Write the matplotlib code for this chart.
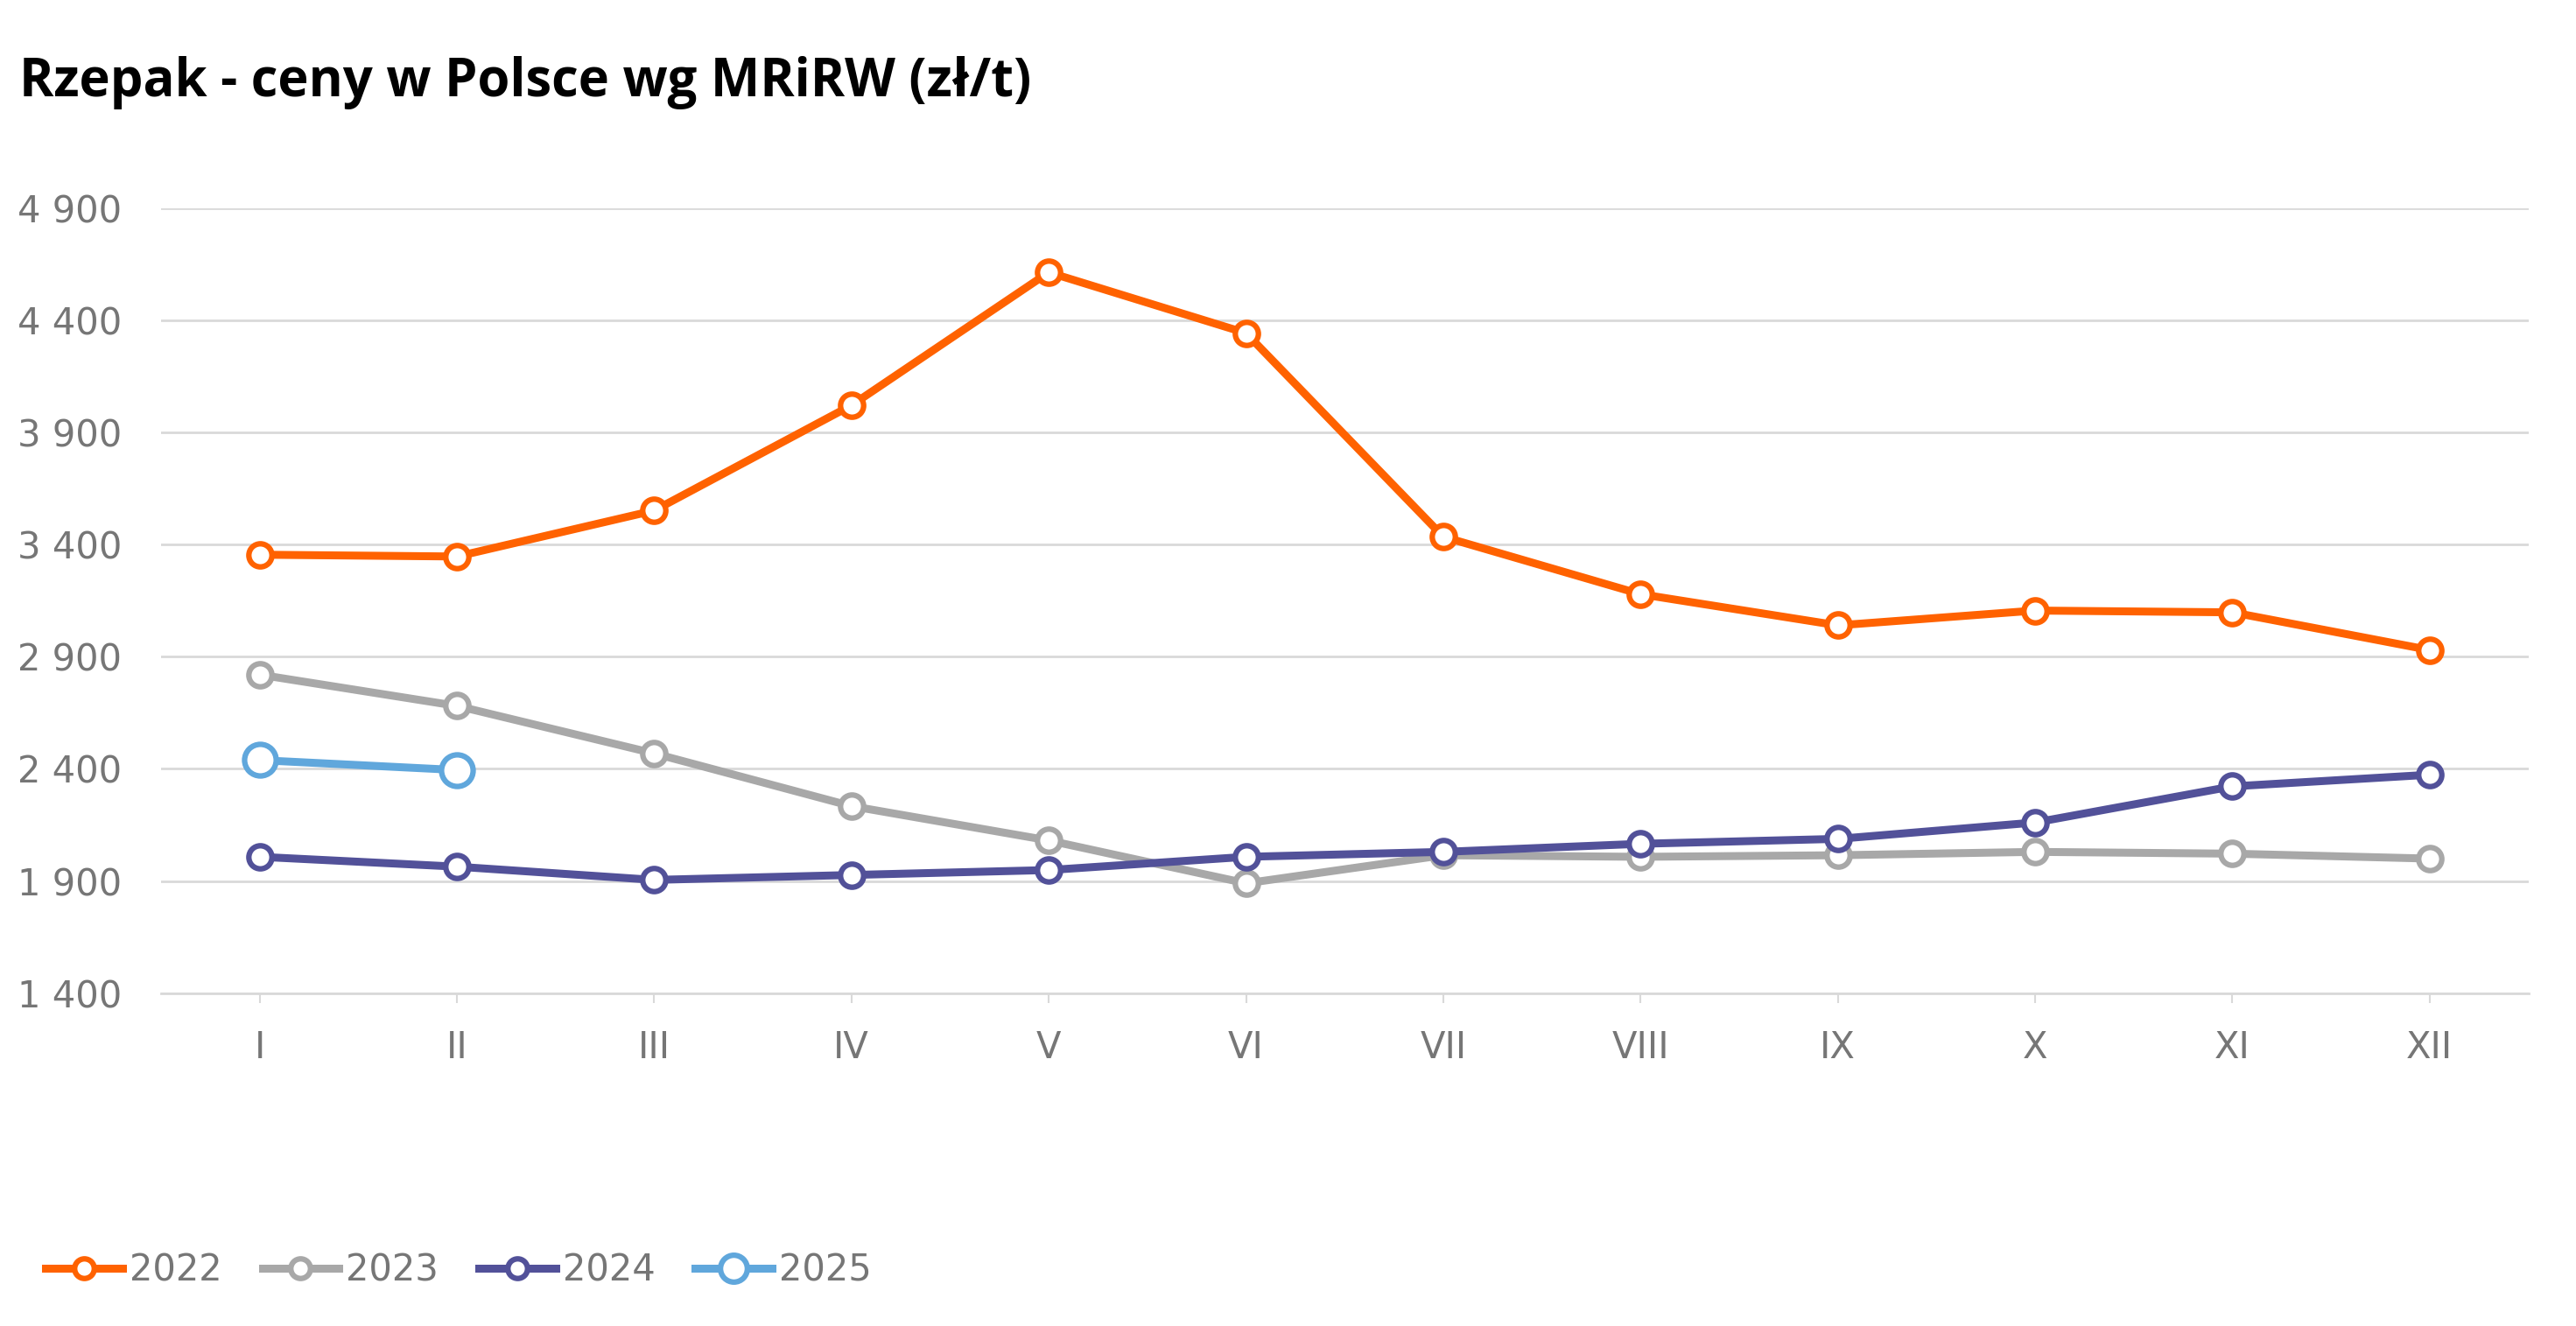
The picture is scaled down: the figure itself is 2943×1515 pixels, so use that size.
import matplotlib.pyplot as plt
from matplotlib.ticker import FixedLocator, FuncFormatter

# Dane (zł/t)
months = ["I", "II", "III", "IV", "V", "VI", "VII", "VIII", "IX", "X", "XI", "XII"]
y2022 = [3355, 3347, 3552, 4021, 4614, 4343, 3435, 3179, 3040, 3106, 3098, 2930]
y2023 = [2820, 2681, 2469, 2234, 2081, 1890, 2015, 2008, 2015, 2030, 2022, 2000]
y2024 = [2008, 1964, 1905, 1927, 1949, 2008, 2030, 2066, 2088, 2161, 2322, 2374]
y2025 = [2439, 2395]

series = [
    ("2022", y2022, "#FF6200", 19),
    ("2023", y2023, "#A8A8A8", 19),
    ("2024", y2024, "#525199", 19),
    ("2025", y2025, "#60A7DC", 26),
]

plt.rcParams['font.family'] = ['DejaVu Sans']

fig = plt.figure(figsize=(29.43, 15.15), dpi=100)
ax = fig.add_axes([0.0625, 0.251, 0.919, 0.592])

x = list(range(len(months)))
for name, vals, color, ms in series:
    ax.plot(x[:len(vals)], vals, color=color, lw=6.5, marker='o', ms=ms,
            mfc='white', mec=color, mew=4.5, label=name, zorder=3)

ax.set_xlim(-0.5, 11.5)
ax.set_ylim(1400, 4900)
ax.yaxis.set_major_locator(FixedLocator(range(1400, 4901, 500)))
ax.yaxis.set_major_formatter(FuncFormatter(lambda v, p: f"{int(v):,}".replace(",", " ")))
ax.set_xticks(x)
ax.set_xticklabels(months)

ax.grid(axis='y', color='#D9D9D9', lw=2)
ax.set_axisbelow(True)
for s in ['top', 'right', 'left']:
    ax.spines[s].set_visible(False)
ax.spines['bottom'].set_color('#D9D9D9')
ax.spines['bottom'].set_linewidth(2)

ax.tick_params(axis='y', length=0, labelsize=30, labelcolor='#767676', pad=32)
ax.tick_params(axis='x', length=8, width=1.5, color='#D9D9D9', labelsize=30,
               labelcolor='#767676', pad=22)

fig.text(0.0075, 0.958, "Rzepak - ceny w Polsce wg MRiRW (zł/t)", fontsize=43,
         fontweight='bold', family=['Open Sans', 'DejaVu Sans'], va='top', ha='left')

leg = fig.legend(loc='lower left', bbox_to_anchor=(0.005, 0.003), ncol=4, frameon=False,
                 fontsize=30, handlelength=2.1, columnspacing=1.1, handletextpad=0.2,
                 markerscale=0.85)
for t in leg.get_texts():
    t.set_color('#767676')

plt.savefig('out.png', dpi=100)
plt.close()
